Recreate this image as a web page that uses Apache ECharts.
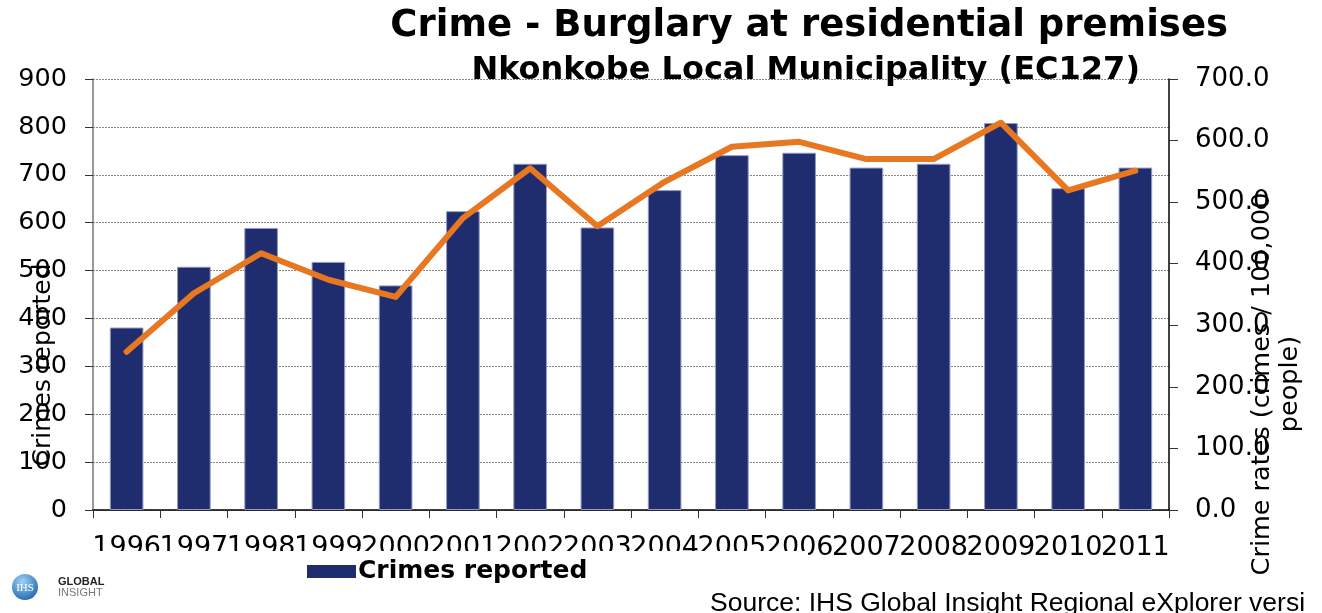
<!DOCTYPE html>
<html>
<head>
<meta charset="utf-8">
<script src="https://cdn.jsdelivr.net/npm/echarts@6/dist/echarts.min.js"></script>
<style>
html,body{margin:0;padding:0;background:#fff;}
#chart{width:1322px;height:613px;}
</style>
</head>
<body>
<div id="chart"></div>
<script>
var years = ['1996','1997','1998','1999','2000','2001','2002','2003','2004','2005','2006','2007','2008','2009','2010','2011'];
var crimesReported = [381, 508, 589, 518, 469, 624, 723, 590, 668, 741, 746, 715, 723, 808, 672, 715];
var crimeRates = [257, 352, 417, 374, 346, 474, 555, 461, 533, 590, 598, 570, 570, 629, 519, 551];
var leftTicks = {min: 0, max: 900, interval: 100};
var rightTicks = {min: 0, max: 700, interval: 100};

var chart = echarts.init(document.getElementById('chart'), null, {renderer: 'canvas'});
var font = 'DejaVu Sans, Verdana, sans-serif';
chart.setOption({
  animation: false,
  backgroundColor: '#fff',
  title: [
    {text: 'Crime - Burglary at residential premises', right: 94, top: 8, padding: 0,
     textStyle: {fontFamily: font, fontSize: 37, fontWeight: 'bold', color: '#000'}},
    {text: 'Nkonkobe Local Municipality (EC127)', right: 182, top: 55, padding: 0,
     textStyle: {fontFamily: font, fontSize: 32, fontWeight: 'bold', color: '#000'}}
  ],
  grid: {left: 93, right: 153, top: 79, bottom: 103, containLabel: false},
  legend: {
    data: [{name: 'Crimes reported', icon: 'rect', itemStyle: {borderWidth: 0, color: '#1F2D6E'}}],
    left: 302, top: 554, itemWidth: 49, itemHeight: 13, itemGap: 0,
    itemStyle: {borderWidth: 0},
    textStyle: {fontFamily: font, fontSize: 25, fontWeight: 'bold', color: '#000', padding: [0,0,0,-3]},
    selectedMode: false
  },
  xAxis: {
    type: 'category', data: years,
    axisLine: {lineStyle: {color: '#000', width: 1.5}},
    axisTick: {show: true, length: 8, lineStyle: {color: '#333'}},
    axisLabel: {interval: 0, margin: 24, fontFamily: font, fontSize: 27, color: '#000'},
    splitLine: {show: false}
  },
  yAxis: [
    {type: 'value', min: leftTicks.min, max: leftTicks.max, interval: leftTicks.interval,
     axisLine: {show: true, lineStyle: {color: '#777', width: 1.5}},
     axisTick: {show: true, length: 8, lineStyle: {color: '#333'}},
     axisLabel: {margin: 26, fontFamily: font, fontSize: 25.5, color: '#000'},
     splitLine: {show: true, lineStyle: {color: '#888', width: 1, type: [2, 1]}}},
    {type: 'value', min: rightTicks.min, max: rightTicks.max, interval: rightTicks.interval,
     position: 'right',
     axisLine: {show: true, lineStyle: {color: '#000', width: 1.5}},
     axisTick: {show: true, length: 9, lineStyle: {color: '#333'}},
     axisLabel: {margin: 26, fontFamily: font, fontSize: 26, color: '#000',
       formatter: function (v) { return v.toFixed(1); }},
     splitLine: {show: false}}
  ],
  graphic: [
    {type: 'rect', z: 3, shape: {x: 80, y: 551, width: 728, height: 40}, style: {fill: '#fff'}},
    {type: 'text', z: 10, x: 43, y: 365, rotation: Math.PI / 2,
     style: {text: 'Crimes reported', font: '25px ' + font, fill: '#000', textAlign: 'center', textVerticalAlign: 'middle'}},
    {type: 'text', z: 10, x: 1276, y: 384, rotation: Math.PI / 2,
     style: {text: 'Crime rates (crimes / 100,000\npeople)', font: '25.5px ' + font, lineHeight: 28, fill: '#000', textAlign: 'center', textVerticalAlign: 'middle'}},
    {type: 'text', z: 10, x: 710, y: 617,
     style: {text: 'Source: IHS Global Insight Regional eXplorer versi', font: '26.5px Liberation Sans, Arial, sans-serif', fill: '#000', textAlign: 'left', textVerticalAlign: 'bottom'}},
    {type: 'circle', z: 10, shape: {cx: 25, cy: 587, r: 13},
     style: {fill: new echarts.graphic.RadialGradient(0.4, 0.3, 0.8, [{offset: 0, color: '#9fd3f5'}, {offset: 1, color: '#1a5fa8'}])}},
    {type: 'text', z: 11, x: 25, y: 588,
     style: {text: 'IHS', font: '11px Liberation Serif, serif', fill: '#fff', textAlign: 'center', textVerticalAlign: 'middle'}},
    {type: 'text', z: 10, x: 58, y: 582,
     style: {text: 'GLOBAL', font: 'bold 11px Liberation Sans, Arial, sans-serif', fill: '#222', textVerticalAlign: 'middle'}},
    {type: 'text', z: 10, x: 58, y: 593,
     style: {text: 'INSIGHT', font: '11px Liberation Sans, Arial, sans-serif', fill: '#777', textVerticalAlign: 'middle'}}
  ],
  series: [
    {name: 'Crimes reported', type: 'bar', data: crimesReported, yAxisIndex: 0,
     barWidth: '50%',
     itemStyle: {color: '#1F2D6E', borderColor: '#9299C4', borderWidth: 1}},
    {name: 'Crime rates', type: 'line', data: crimeRates, yAxisIndex: 1,
     symbol: 'none', smooth: false, z: 5,
     lineStyle: {color: '#E87722', width: 6, cap: 'round', join: 'round'}}
  ]
});
</script>
</body>
</html>
